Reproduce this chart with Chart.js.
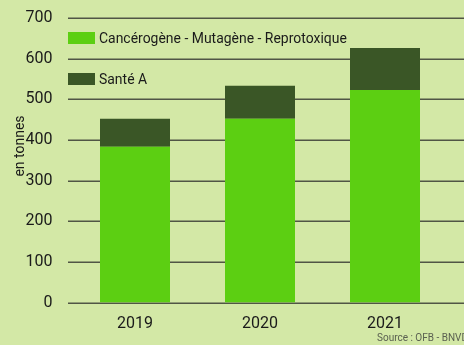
<!DOCTYPE html>
<html>
<head>
<meta charset="utf-8">
<script src="https://cdn.jsdelivr.net/npm/chart.js@4"></script>
<style>
  html, body { margin: 0; padding: 0; background: #d3e8a6; }
  #wrap { width: 464px; height: 345px; }
</style>
</head>
<body>
<div id="wrap"><canvas id="chart" width="464" height="345"></canvas></div>
<script>
const years = ['2019', '2020', '2021'];
const cmrValues = [383, 452, 523];
const santeValues = [69, 81, 103];
const seriesLabels = ['Cancérogène - Mutagène - Reprotoxique', 'Santé A'];
const seriesColors = ['#5ccf12', '#3a5626'];
const yTicks = [0, 100, 200, 300, 400, 500, 600, 700];

const FONT = "'Roboto', sans-serif";

// horizontal rules run from the tick labels to the right edge of the canvas
const gridPlugin = {
  id: 'wideGrid',
  beforeDatasetsDraw(chart) {
    const { ctx } = chart;
    const y = chart.scales.y;
    ctx.save();
    ctx.strokeStyle = '#505545';
    ctx.lineWidth = 1.5;
    yTicks.forEach(v => {
      const py = Math.round(y.getPixelForValue(v)) + 0.25;
      ctx.beginPath();
      ctx.moveTo(68, py);
      ctx.lineTo(chart.width, py);
      ctx.stroke();
    });
    ctx.restore();
  }
};

// legend stacked top-left, axis caption, source line
const extrasPlugin = {
  id: 'extras',
  afterDraw(chart) {
    const { ctx } = chart;
    ctx.save();
    ctx.textBaseline = 'middle';
    ctx.textAlign = 'left';
    ctx.font = '15px ' + FONT;
    const rows = [38, 79];
    chart.data.datasets.forEach((ds, i) => {
      ctx.fillStyle = ds.backgroundColor;
      ctx.fillRect(68, rows[i] - 6, 27, 12);
      ctx.fillStyle = '#1a1a1a';
      ctx.save();
      ctx.translate(99, rows[i] + 1);
      ctx.scale(0.93, 1);
      ctx.fillText(ds.label, 0, 0);
      ctx.restore();
    });

    ctx.save();
    ctx.translate(20, 146);
    ctx.rotate(-Math.PI / 2);
    ctx.textAlign = 'center';
    ctx.font = '14px ' + FONT;
    ctx.fillStyle = '#1a1a1a';
    ctx.fillText('en tonnes', 0, 0);
    ctx.restore();

    ctx.font = '10px ' + FONT;
    ctx.fillStyle = '#5a6050';
    ctx.fillText('Source : OFB - BNVD', 377, 338);
    ctx.restore();
  }
};

new Chart(document.getElementById('chart'), {
  type: 'bar',
  data: {
    labels: years,
    datasets: [
      { label: seriesLabels[0], data: cmrValues, backgroundColor: seriesColors[0] },
      { label: seriesLabels[1], data: santeValues, backgroundColor: seriesColors[1] }
    ]
  },
  options: {
    responsive: false,
    animation: false,
    layout: { padding: { top: 0, right: 16.5, bottom: 0, left: 0 } },
    datasets: { bar: { categoryPercentage: 1, barPercentage: 0.56 } },
    plugins: { legend: { display: false }, tooltip: { enabled: false } },
    scales: {
      x: {
        stacked: true,
        grid: { display: false },
        border: { display: false },
        ticks: { color: '#1a1a1a', font: { family: FONT, size: 16 }, padding: 4 },
        afterFit(scale) { scale.height = 42.5; }
      },
      y: {
        stacked: true,
        min: 0,
        max: 700,
        grid: { display: false },
        border: { display: false },
        afterBuildTicks(scale) { scale.ticks = yTicks.map(v => ({ value: v })); },
        ticks: { color: '#1a1a1a', font: { family: FONT, size: 16, lineHeight: 0.75 }, padding: 12 },
        afterFit(scale) { scale.width = 72.5; }
      }
    }
  },
  plugins: [gridPlugin, extrasPlugin]
});
</script>
</body>
</html>
